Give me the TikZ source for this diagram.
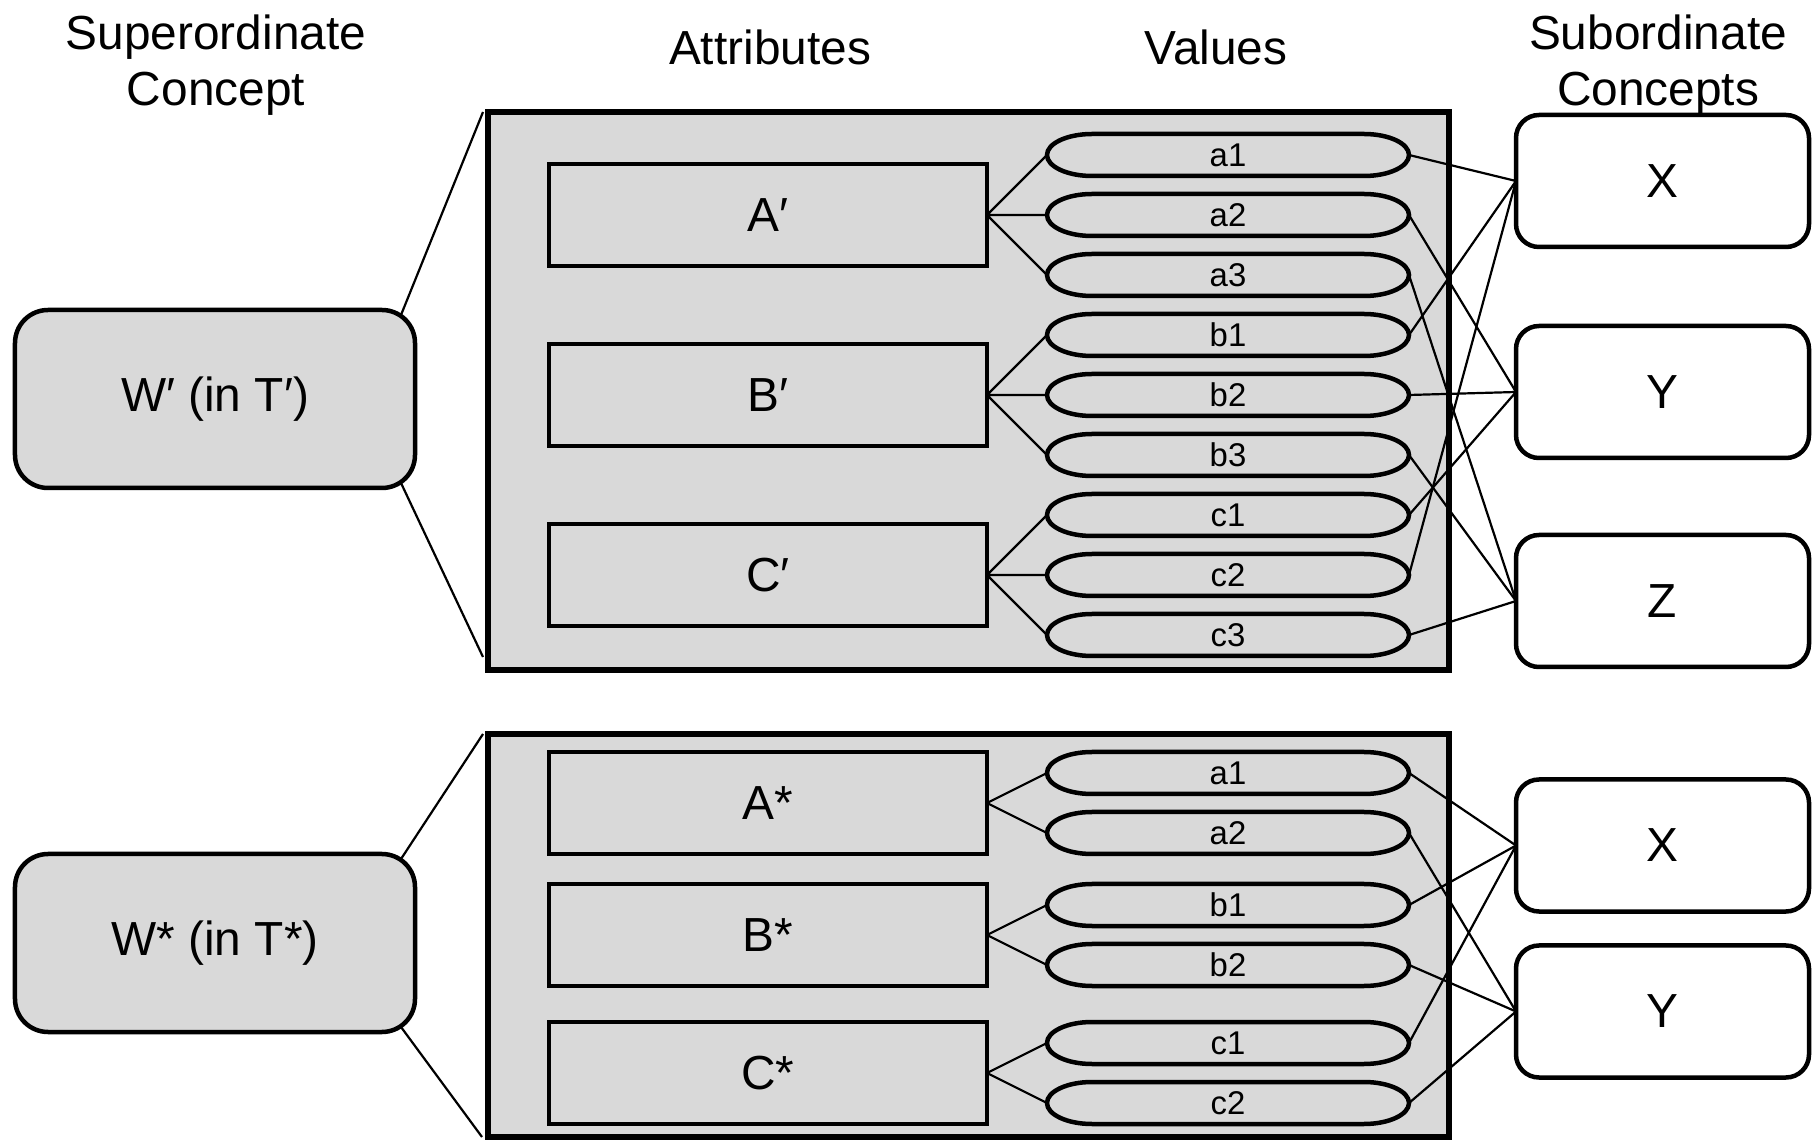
\documentclass[tikz,border=0pt]{standalone}
\usepackage{fontspec}
\setmainfont{Liberation Sans}
\definecolor{boxgray}{HTML}{D9D9D9}
\tikzset{
  bigfont/.style={font=\fontsize{48}{56}\selectfont},
  panel/.style={draw=black, fill=boxgray, line width=5.5bp, inner sep=0pt, outer sep=0pt},
  conceptbox/.style={draw=black, fill=boxgray, line width=4.5bp, rounded corners=33bp,
    minimum width=400bp, minimum height=178bp, inner sep=0pt, outer sep=0pt, bigfont},
  attrbox/.style={draw=black, fill=boxgray, line width=4.5bp, minimum width=438bp,
    minimum height=102bp, inner sep=0pt, outer sep=0pt, bigfont},
  valbox/.style={minimum width=362bp, minimum height=42bp, inner sep=0pt, outer sep=0pt,
    font=\fontsize{33}{36}\selectfont,
    append after command={\pgfextra{\draw[line width=4.5bp]
      ([xshift=45bp]\tikzlastnode.north west) -- ([xshift=-45bp]\tikzlastnode.north east)
      arc[start angle=90, end angle=-90, x radius=45bp, y radius=21bp]
      -- ([xshift=45bp]\tikzlastnode.south west)
      arc[start angle=270, end angle=90, x radius=45bp, y radius=21bp] -- cycle;}}},
  subbox/.style={draw=black, fill=white, line width=4.5bp, rounded corners=23bp,
    minimum width=293bp, minimum height=132bp, inner sep=0pt, outer sep=0pt, bigfont},
  link/.style={draw=black, line width=2.2bp},
}
\begin{document}
\begin{tikzpicture}[x=1bp,y=1bp]
  \path[use as bounding box] (0,0) rectangle (1813,1141);
  \fill[white] (0,0) rectangle (1813,1141);

  % headings
  \node[bigfont,align=center] (hsup) at (216,1076) {Superordinate\\Concept};
  \node[bigfont] (hatt) at (770,1094) {Attributes};
  \node[bigfont] (hval) at (1216,1094) {Values};
  \node[bigfont,align=center] (hsub) at (1658,1076) {Subordinate\\Concepts};

  % panels
  \node[panel,minimum width=961bp,minimum height=558bp] (tpanel) at (968.5,750) {};
  \node[panel,minimum width=961bp,minimum height=403bp] (bpanel) at (968.5,205.5) {};

  % superordinate concepts
  \node[conceptbox] (wp) at (215,742) {W′ (in T′)};
  \node[conceptbox] (ws) at (215,198) {W* (in T*)};

  \draw[link] ([shift={(-14,-5)}]wp.north east) -- ([xshift=-5]tpanel.north west);
  \draw[link] ([shift={(-14,5)}]wp.south east) -- ([shift={(-5,13)}]tpanel.south west);
  \draw[link] ([shift={(-14,-5)}]ws.north east) -- ([xshift=-5]bpanel.north west);
  \draw[link] ([shift={(-14,5)}]ws.south east) -- ([xshift=-6]bpanel.south west);

  % attributes, top
  \node[attrbox] (ta) at (768,926) {A′};
  \node[attrbox] (tb) at (768,746) {B′};
  \node[attrbox] (tc) at (768,566) {C′};

  % values, top
  \node[valbox] (ta1) at (1228,986) {a1};
  \node[valbox] (ta2) at (1228,926) {a2};
  \node[valbox] (ta3) at (1228,866) {a3};
  \node[valbox] (tb1) at (1228,806) {b1};
  \node[valbox] (tb2) at (1228,746) {b2};
  \node[valbox] (tb3) at (1228,686) {b3};
  \node[valbox] (tc1) at (1228,626) {c1};
  \node[valbox] (tc2) at (1228,566) {c2};
  \node[valbox] (tc3) at (1228,506) {c3};

  % subordinate concepts, top
  \node[subbox] (tx) at (1662.5,960) {X};
  \node[subbox] (ty) at (1662.5,749) {Y};
  \node[subbox] (tz) at (1662.5,540) {Z};

  \draw[link] (ta.east) -- (ta1.west) (ta.east) -- (ta2.west) (ta.east) -- (ta3.west);
  \draw[link] (tb.east) -- (tb1.west) (tb.east) -- (tb2.west) (tb.east) -- (tb3.west);
  \draw[link] (tc.east) -- (tc1.west) (tc.east) -- (tc2.west) (tc.east) -- (tc3.west);

  \draw[link] (ta1.east) -- (tx.west);
  \draw[link] (ta2.east) -- (ty.west);
  \draw[link] (ta3.east) -- (tz.west);
  \draw[link] (tb1.east) -- (tx.west);
  \draw[link] (tb2.east) -- (ty.west);
  \draw[link] (tb3.east) -- (tz.west);
  \draw[link] (tc1.east) -- (ty.west);
  \draw[link] (tc2.east) -- (tx.west);
  \draw[link] (tc3.east) -- (tz.west);

  % attributes, bottom
  \node[attrbox] (ba) at (768,338) {A*};
  \node[attrbox] (bb) at (768,206) {B*};
  \node[attrbox] (bc) at (768,68) {C*};

  % values, bottom
  \node[valbox] (ba1) at (1228,368) {a1};
  \node[valbox] (ba2) at (1228,308) {a2};
  \node[valbox] (bb1) at (1228,236) {b1};
  \node[valbox] (bb2) at (1228,176) {b2};
  \node[valbox] (bc1) at (1228,98) {c1};
  \node[valbox] (bc2) at (1228,38) {c2};

  % subordinate concepts, bottom
  \node[subbox] (bx) at (1662.5,295.5) {X};
  \node[subbox] (by) at (1662.5,129.5) {Y};

  \draw[link] (ba.east) -- (ba1.west) (ba.east) -- (ba2.west);
  \draw[link] (bb.east) -- (bb1.west) (bb.east) -- (bb2.west);
  \draw[link] (bc.east) -- (bc1.west) (bc.east) -- (bc2.west);

  \draw[link] (ba1.east) -- (bx.west);
  \draw[link] (ba2.east) -- (by.west);
  \draw[link] (bb1.east) -- (bx.west);
  \draw[link] (bb2.east) -- (by.west);
  \draw[link] (bc1.east) -- (bx.west);
  \draw[link] (bc2.east) -- (by.west);
\end{tikzpicture}
\end{document}
